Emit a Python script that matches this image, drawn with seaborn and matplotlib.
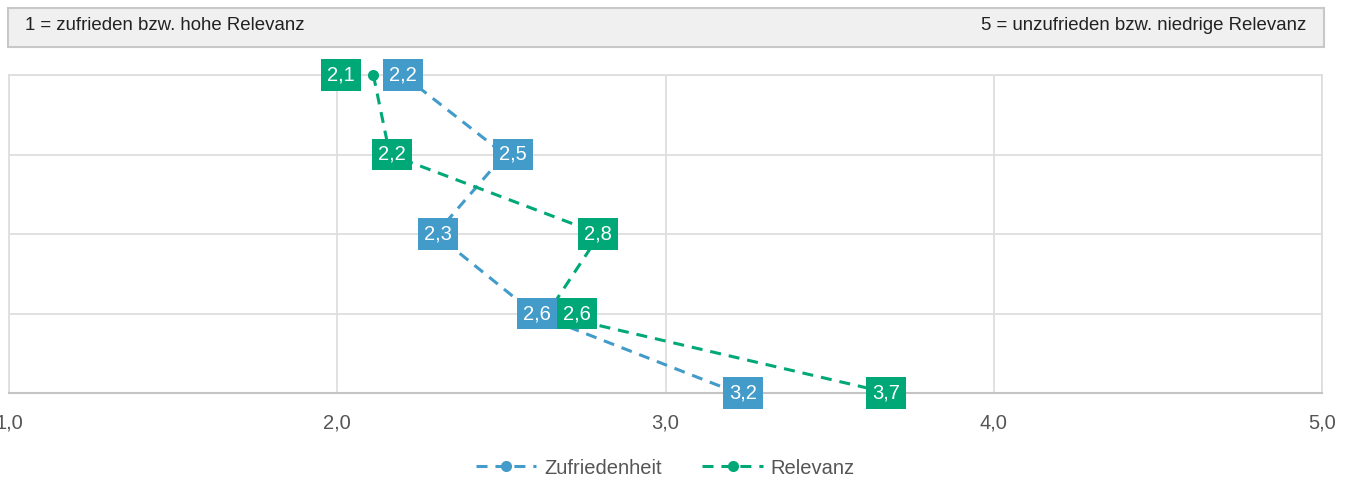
import pandas as pd
import numpy as np
import matplotlib
matplotlib.use("Agg")
import matplotlib.pyplot as plt
import seaborn as sns
from matplotlib.patches import Rectangle

# data (rows top to bottom, no row labels shown)
rows = [0, 1, 2, 3, 4]
zufriedenheit = [2.20, 2.51, 2.30, 2.60, 3.22]
relevanz = [2.11, 2.16, 2.80, 2.64, 3.68]
series_names = ["Zufriedenheit", "Relevanz"]
x_ticks = [1, 2, 3, 4, 5]
header_left = "1 = zufrieden bzw. hohe Relevanz"
header_right = "5 = unzufrieden bzw. niedrige Relevanz"

colors = {"Zufriedenheit": "#429bc9", "Relevanz": "#00a878"}
# label shifts in pixels so boxes don't overlap
label_shift = {"Zufriedenheit": [0, 8, 2, 3, 5], "Relevanz": [-32, 2, -2, 30, -3]}

df = pd.DataFrame({
    "row": rows * 2,
    "wert": zufriedenheit + relevanz,
    "serie": [series_names[0]] * 5 + [series_names[1]] * 5,
})

sns.set_theme(style="whitegrid")
plt.rcParams["font.family"] = ["Liberation Sans", "DejaVu Sans"]

fig = plt.figure(figsize=(13.46, 4.83), dpi=100)
ax = fig.add_axes([9 / 1346, 90 / 483, 1313 / 1346, 318 / 483])

sns.lineplot(data=df, x="wert", y="row", hue="serie", style="serie",
             palette=colors, markers={"Zufriedenheit": "o", "Relevanz": "o"},
             dashes={"Zufriedenheit": (3.6, 2.6), "Relevanz": (3.6, 2.6)},
             sort=False, estimator=None, linewidth=2.2, markersize=8,
             markeredgewidth=0, ax=ax, clip_on=False, zorder=3)

ax.set_xlim(1, 5)
ax.set_ylim(4, 0)
ax.set_xticks(x_ticks)
ax.set_xticklabels([f"{t:.1f}".replace(".", ",") for t in x_ticks],
                   fontsize=14.5, color="#555555")
ax.set_yticks(rows)
ax.set_yticklabels([])
ax.set_xlabel("")
ax.set_ylabel("")
ax.tick_params(axis="x", length=5, width=1.3, color="#d0d0d0", pad=10)
ax.tick_params(axis="y", length=0)
ax.grid(True, color="#dedede", linewidth=1.3)
for side in ["left", "top", "right"]:
    ax.spines[side].set_color("#dedede")
    ax.spines[side].set_linewidth(1.3)
ax.spines["bottom"].set_color("#c4c4c4")
ax.spines["bottom"].set_linewidth(1.5)

# value boxes
for name, vals in [("Zufriedenheit", zufriedenheit), ("Relevanz", relevanz)]:
    for i, v in enumerate(vals):
        ax.annotate(f"{v:.1f}".replace(".", ","), xy=(v, rows[i]),
                    xytext=(label_shift[name][i] * 0.72, 0), textcoords="offset points",
                    ha="center", va="center", fontsize=14.5, color="white",
                    bbox=dict(boxstyle="square,pad=0.3", fc=colors[name], ec="none"),
                    zorder=5, annotation_clip=False)

# header box
fig.patches.append(Rectangle((8 / 1346, 436 / 483), 1316 / 1346, 39 / 483,
                             transform=fig.transFigure, fc="#f0f0f0",
                             ec="#c8c8c8", lw=1.5))
fig.text(25 / 1346, 1 - 25 / 483, header_left, ha="left", va="center",
         fontsize=13.4, color="#222222")
fig.text(1306 / 1346, 1 - 25 / 483, header_right, ha="right", va="center",
         fontsize=13.4, color="#222222")

sns.move_legend(ax, "center", bbox_to_anchor=(0.5, -0.236), ncol=2,
                frameon=False, title=None, fontsize=14.5, handlelength=3,
                columnspacing=2.0, handletextpad=0.4, labelcolor="#555555")

fig.savefig("out.png", dpi=100)
